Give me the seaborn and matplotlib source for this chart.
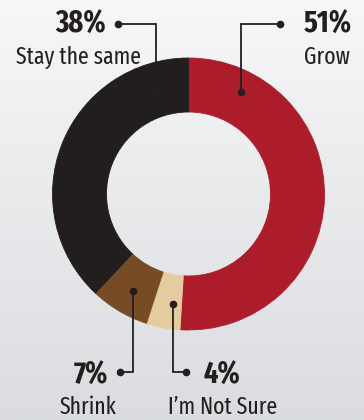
import numpy as np
import matplotlib
matplotlib.use("Agg")
import matplotlib.pyplot as plt
import seaborn as sns
from matplotlib import font_manager
from matplotlib.font_manager import FontProperties
from matplotlib.colors import LinearSegmentedColormap

sns.set_style("white")

def wclass(f):
    nm = (f.name + " " + f.fname).lower().replace("-", "").replace(" ", "")
    st = str(f.stretch).lower().replace("-", "")
    if "extracondensed" in nm or st == "extracondensed":
        return "xc"
    if "semicondensed" in nm or st == "semicondensed":
        return "sc"
    if "condensed" in nm or "narrow" in nm or st == "condensed":
        return "c"
    return None

def weight(f):
    if isinstance(f.weight, int):
        return f.weight
    return {"normal": 400, "regular": 400, "bold": 700}.get(str(f.weight), 400)

found = {}
for f in font_manager.fontManager.ttflist:
    nm = f.fname.lower()
    if "italic" in nm or "oblique" in nm:
        continue
    wc = wclass(f)
    if wc is None:
        continue
    w = weight(f)
    if w in (400, 700):
        found.setdefault((wc, w), f.fname)

plt.rcParams['font.family'] = ['Roboto', 'DejaVu Sans']
if ("xc", 400) in found and ("xc", 700) in found:
    fp_reg = FontProperties(fname=found[("xc", 400)], size=17)
    fp_bold = FontProperties(fname=found[("xc", 700)], size=22)
elif ("c", 400) in found and ("c", 700) in found:
    fp_reg = FontProperties(fname=found[("c", 400)], size=14.5)
    fp_bold = FontProperties(fname=found[("c", 700)], size=19)
else:
    fp_reg = FontProperties(family=['Roboto'], size=14)
    fp_bold = FontProperties(family=['Roboto'], weight="bold", size=19)

# Data
categories = ["Grow", "I\u2019m Not Sure", "Shrink", "Stay the same"]
values = [51, 4, 7, 38]
labels = ["51%", "4%", "7%", "38%"]
colors = ["#AD1C2B", "#E4CBA0", "#764B25", "#221E1F"]

W, H = 364, 420
fig = plt.figure(figsize=(W / 100, H / 100), dpi=100)
ax = fig.add_axes([0, 0, 1, 1])

grad = np.linspace(0, 1, 256).reshape(-1, 1)
cmap = LinearSegmentedColormap.from_list("bg", ["#F7F7F8", "#DADCDF"])
ax.imshow(grad, extent=[0, W, 0, H], cmap=cmap, aspect="auto", origin="upper", zorder=0)

cx, cy, R = 188.5, H - 194, 136
wedges, _ = ax.pie(values, colors=colors, startangle=90, counterclock=False,
                   center=(cx, cy), radius=R, frame=True,
                   wedgeprops=dict(width=R - 82, linewidth=0.6))
for w_ in wedges:
    w_.set_edgecolor(w_.get_facecolor())
ax.set_xlim(0, W)
ax.set_ylim(0, H)
ax.set_aspect("equal")
ax.axis("off")

line_c = "#231F20"
def leader(pts):
    xs = [p[0] for p in pts]
    ys = [H - p[1] for p in pts]
    ax.plot(xs, ys, color=line_c, lw=1.3, zorder=5, solid_joinstyle="miter")
    ax.plot([xs[0], xs[-1]], [ys[0], ys[-1]], "o", color=line_c, ms=4.5, zorder=6)

leader([(241, 92), (241, 24), (280, 24)])
leader([(156, 92), (156, 24), (118, 24)])
leader([(133, 291), (133, 372), (120, 372)])
leader([(173, 304), (173, 372), (186, 372)])

pct_kw = dict(fontproperties=fp_bold, color="#231F20", va="baseline", zorder=7)
lab_kw = dict(fontproperties=fp_reg, color="#231F20", va="baseline", zorder=7)

ax.text(352, H - 33, labels[0], ha="right", **pct_kw)
ax.text(350, H - 64, categories[0], ha="right", **lab_kw)

ax.text(106, H - 33, labels[3], ha="right", **pct_kw)
ax.text(78, H - 64, categories[3], ha="center", **lab_kw)

ax.text(108, H - 384, labels[2], ha="right", **pct_kw)
ax.text(88, H - 414, categories[2], ha="center", **lab_kw)

ax.text(204, H - 384, labels[1], ha="left", **pct_kw)
ax.text(223, H - 414, categories[1], ha="center", **lab_kw)

fig.savefig("out.png", dpi=100)
